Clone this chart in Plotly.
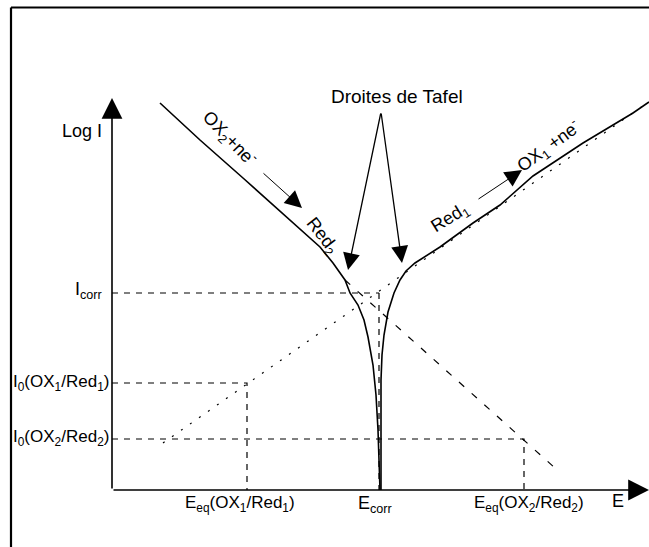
import plotly.graph_objects as go

# Potential E and log I, in drawing units (axes cross at 0, 0)
left_E = [4.8, 8.8, 13.1, 17.5, 20.8, 22.1, 23.3, 23.8, 24.6, 25.2, 25.6, 26.1, 26.4, 26.6, 26.8]
left_logI = [38.7, 35.0, 31.2, 27.3, 24.3, 22.7, 21.0, 19.7, 18.5, 17.0, 15.3, 12.5, 9.5, 6.0, 0.0]

right_E = [26.9, 26.9, 26.9, 27.0, 27.2, 27.6, 28.2, 28.8, 29.4, 30.3, 32.8, 36.1, 38.8, 42.1, 47.1, 52.1, 53.7]
right_logI = [0.0, 6.0, 11.0, 13.5, 15.5, 17.8, 19.7, 21.0, 21.9, 22.7, 24.3, 26.7, 28.5, 31.4, 34.7, 37.7, 38.8]

# Tafel lines
anodic_E = [5.1, 53.5]
anodic_logI = [4.7, 38.7]
cathodic_E = [23.3, 44.3]
cathodic_logI = [21.0, 2.2]

# characteristic values
E_eq1, E_corr, E_eq2 = 13.5, 26.7, 41.2
I_corr, I0_1, I0_2 = 19.7, 10.7, 5.1

FONT = "Liberation Sans, Arial, sans-serif"

fig = go.Figure()

line_kw = dict(mode="lines", hoverinfo="skip", showlegend=False)

# reference dashed lines
fig.add_trace(go.Scatter(x=[0, E_corr], y=[I_corr, I_corr], line=dict(color="black", width=1.2, dash="6px,6px"), **line_kw))
fig.add_trace(go.Scatter(x=[0, E_eq1, E_eq1], y=[I0_1, I0_1, 0], line=dict(color="black", width=1.2, dash="6px,6px"), **line_kw))
fig.add_trace(go.Scatter(x=[0, E_eq2, E_eq2], y=[I0_2, I0_2, 0], line=dict(color="black", width=1.2, dash="6px,6px"), **line_kw))
fig.add_trace(go.Scatter(x=[E_corr, E_corr], y=[I_corr, 0], line=dict(color="black", width=1.2, dash="6px,6px"), **line_kw))

# Tafel lines
fig.add_trace(go.Scatter(x=anodic_E, y=anodic_logI, line=dict(color="black", width=1.2, dash="2px,9px"), **line_kw))
fig.add_trace(go.Scatter(x=cathodic_E, y=cathodic_logI, line=dict(color="black", width=1.2, dash="7px,10px"), **line_kw))

# polarisation curve
fig.add_trace(go.Scatter(x=left_E, y=left_logI, line=dict(color="black", width=1.6), **line_kw))
fig.add_trace(go.Scatter(x=right_E, y=right_logI, line=dict(color="black", width=1.6), **line_kw))


def arrow(tip, tail, width=1.3, size=1.6):
    fig.add_annotation(x=tip[0], y=tip[1], ax=tail[0], ay=tail[1], axref="x", ayref="y",
                       text="", showarrow=True, arrowhead=2, arrowsize=size,
                       arrowwidth=width, arrowcolor="black")


def label(x, y, text, xanchor="center", angle=0, size=18):
    fig.add_annotation(x=x, y=y, text=text, showarrow=False, xanchor=xanchor,
                       yanchor="middle", textangle=angle,
                       font=dict(family=FONT, size=size, color="black"))


# axes with arrows
arrow((0, 39.2), (0, 0), width=1.6, size=2.6)
arrow((53.7, 0), (0, 0), width=1.6, size=2.6)

# Droites de Tafel
arrow((23.6, 22.0), (26.9, 37.8), width=1.3, size=2.6)
arrow((29.0, 22.7), (26.9, 37.8), width=1.3, size=2.6)
label(28.5, 39.4, "Droites de Tafel", size=19)

# reaction arrows
arrow((19.0, 28.2), (15.0, 31.8), width=1.0, size=3.4)
arrow((41.0, 32.0), (36.5, 29.0), width=1.0, size=3.4)
label(11.8, 35.2, "OX<sub>2</sub>+ne<sup>-</sup>", angle=46)
label(21.0, 25.4, "Red<sub>2</sub>", angle=52)
label(33.8, 27.2, "Red<sub>1</sub>", angle=-32)
label(43.6, 34.4, "OX<sub>1</sub> +ne<sup>-</sup>", angle=-36)

# axis labels
label(-0.8, 35.9, "Log I", xanchor="right")
label(-0.8, 20.0, "I<sub>corr</sub>", xanchor="right")
label(-0.1, 10.7, "I<sub>0</sub>(OX<sub>1</sub>/Red<sub>1</sub>)", xanchor="right", size=17)
label(-0.1, 5.2, "I<sub>0</sub>(OX<sub>2</sub>/Red<sub>2</sub>)", xanchor="right", size=17)
label(E_eq1 - 0.7, -1.4, "E<sub>eq</sub>(OX<sub>1</sub>/Red<sub>1</sub>)", size=17)
label(E_corr - 0.4, -1.4, "E<sub>corr</sub>")
label(E_eq2 + 0.5, -1.4, "E<sub>eq</sub>(OX<sub>2</sub>/Red<sub>2</sub>)", size=17)
label(50.6, -1.1, "E")

# frame of the picture (top and left edges)
fig.add_shape(type="line", xref="paper", yref="paper", x0=11 / 649, y0=1 - 7.5 / 547, x1=1, y1=1 - 7.5 / 547,
              line=dict(color="black", width=2.2))
fig.add_shape(type="line", xref="paper", yref="paper", x0=11 / 649, y0=0, x1=11 / 649, y1=1 - 7.5 / 547,
              line=dict(color="black", width=2.2))

fig.update_layout(
    width=649, height=547,
    margin=dict(l=0, r=0, t=0, b=0),
    paper_bgcolor="white", plot_bgcolor="white",
    xaxis=dict(range=[-11.2, 53.7], visible=False, fixedrange=True),
    yaxis=dict(range=[-5.7, 49.0], visible=False, fixedrange=True),
    showlegend=False,
)

# remove the page's default body margin so the figure sits at the window origin
fig.write_html("out.html", config={"displayModeBar": False},
               post_script="document.body.style.margin = '0';")
